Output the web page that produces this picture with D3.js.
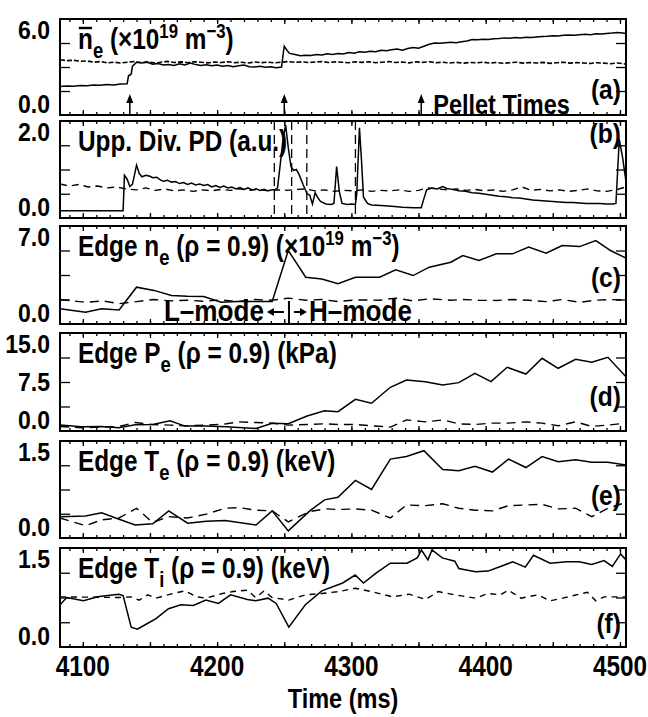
<!DOCTYPE html>
<html>
<head>
<meta charset="utf-8">
<script src="https://cdnjs.cloudflare.com/ajax/libs/d3/7.8.5/d3.min.js"></script>
<style>
body { margin: 0; background: #fff; }
text { font-family: "Liberation Sans", Arial, sans-serif; font-weight: bold; fill: #000; }
</style>
</head>
<body>
<script>
// ---- data (time in ms, value in panel units) ----
var xTickLabels = [4100, 4200, 4300, 4400, 4500];
var pelletTimes = [4135, 4250, 4352];
var divLineTimes = [4242.6, 4255.5, 4266.8, 4303];   // dashed markers in (b)

// (a) line averaged density
var neBarSolid = [[4083,1.78],[4088,1.82],[4093,1.80],[4098,1.85],[4103,1.83],[4108,1.87],[4113,1.86],[4118,1.90],[4123,1.88],[4128,1.93],[4133,1.95],
  [4134,2.45],[4136,2.55],[4137,3.05],[4140,3.30],[4144,3.25],[4148,3.30],[4152,3.18],[4156,3.22],[4160,3.12],[4164,3.15],[4168,3.10],[4172,3.20],
  [4176,3.12],[4180,3.25],[4184,3.15],[4188,3.10],[4192,3.14],[4196,3.08],[4200,3.12],[4204,3.05],[4208,3.10],[4212,3.02],[4216,3.08],[4220,3.12],
  [4224,3.02],[4228,3.00],[4232,3.05],[4236,2.98],[4240,3.02],[4244,2.96],[4248,3.00],[4249,3.70],[4250,4.30],[4252,4.05],[4254,3.85],[4258,3.78],
  [4262,3.70],[4266,3.74],[4270,3.72],[4274,3.78],[4278,3.75],[4282,3.82],[4286,3.78],[4290,3.85],[4294,3.82],[4298,3.90],[4302,3.86],[4306,3.95],
  [4310,3.92],[4314,3.98],[4318,3.95],[4322,4.05],[4326,4.02],[4330,4.08],[4334,4.12],[4338,4.05],[4342,4.15],[4346,4.22],[4350,4.18],[4354,4.30],
  [4358,4.42],[4362,4.50],[4366,4.48],[4370,4.52],[4374,4.55],[4378,4.52],[4382,4.58],[4386,4.62],[4390,4.72],[4394,4.70],[4398,4.74],[4402,4.72],
  [4406,4.76],[4410,4.78],[4414,4.82],[4418,4.80],[4422,4.84],[4426,4.82],[4430,4.86],[4434,4.85],[4438,4.88],[4442,4.90],[4446,4.92],[4450,4.95],
  [4454,4.94],[4458,4.98],[4462,5.00],[4466,4.98],[4470,5.02],[4474,5.04],[4478,5.02],[4482,5.08],[4486,5.06],[4490,5.10],[4494,5.12],[4498,5.15],
  [4502,5.12],[4504.5,5.10]];
var neBarDashed = [[4083,3.45],[4088,3.40],[4093,3.42],[4098,3.36],[4103,3.38],[4108,3.30],[4113,3.34],[4118,3.26],[4123,3.30],[4128,3.25],[4133,3.30],
  [4138,3.34],[4143,3.28],[4148,3.32],[4153,3.26],[4158,3.30],[4163,3.35],[4168,3.28],[4173,3.32],[4178,3.27],[4183,3.33],[4188,3.30],[4193,3.26],
  [4198,3.31],[4203,3.28],[4208,3.33],[4213,3.27],[4218,3.30],[4223,3.25],[4228,3.31],[4233,3.27],[4238,3.30],[4243,3.26],[4248,3.30],[4253,3.34],
  [4258,3.29],[4263,3.32],[4268,3.28],[4273,3.31],[4278,3.34],[4283,3.28],[4288,3.32],[4293,3.30],[4298,3.27],[4303,3.32],[4308,3.29],[4313,3.33],
  [4318,3.27],[4323,3.30],[4328,3.34],[4333,3.28],[4338,3.31],[4343,3.26],[4348,3.32],[4353,3.29],[4358,3.33],[4363,3.27],[4368,3.30],[4373,3.25],
  [4378,3.29],[4383,3.24],[4388,3.28],[4393,3.26],[4398,3.30],[4403,3.25],[4408,3.28],[4413,3.23],[4418,3.27],[4423,3.30],[4428,3.24],[4433,3.28],
  [4438,3.25],[4443,3.29],[4448,3.23],[4453,3.27],[4458,3.30],[4463,3.24],[4468,3.28],[4473,3.25],[4478,3.22],[4483,3.27],[4488,3.24],[4493,3.20],
  [4498,3.25],[4504.5,3.18]];

// (b) upper divertor photodiode
var divSolid = [[4083,0.15],[4100,0.15],[4115,0.15],[4130,0.15],[4131,0.88],[4133,0.80],[4135,0.65],[4137,0.70],[4140,1.09],[4142,0.92],[4144,0.85],
  [4147,0.88],[4150,0.86],[4152,0.83],[4155,0.84],[4158,0.78],[4160,0.76],[4163,0.78],[4166,0.74],[4169,0.75],[4172,0.71],[4175,0.73],[4178,0.69],
  [4181,0.72],[4184,0.68],[4187,0.70],[4190,0.67],[4193,0.69],[4196,0.64],[4199,0.67],[4202,0.63],[4205,0.66],[4208,0.62],[4211,0.64],[4214,0.60],
  [4217,0.63],[4220,0.59],[4223,0.62],[4226,0.58],[4229,0.60],[4232,0.57],[4235,0.59],[4238,0.56],[4241,0.58],[4243,0.58],[4245,0.62],[4247,1.10],
  [4249,1.60],[4251,1.92],[4253,1.45],[4255,1.06],[4257,0.98],[4259,1.00],[4261,0.90],[4264,0.69],[4267,0.50],[4269,0.47],[4271,0.29],[4273,0.52],
  [4275,0.42],[4277,0.34],[4281,0.29],[4285,0.28],[4287,0.30],[4289,1.06],[4291,0.55],[4293,0.30],[4297,0.28],[4300,0.29],[4303,0.28],[4304,0.50],
  [4306,1.86],[4307.5,1.20],[4309,0.43],[4312,0.30],[4315,0.27],[4322,0.26],[4330,0.24],[4338,0.22],[4346,0.21],[4352,0.21],[4354,0.40],[4356,0.58],
  [4360,0.62],[4364,0.60],[4368,0.65],[4371,0.61],[4375,0.59],[4380,0.56],[4385,0.55],[4390,0.52],[4395,0.51],[4400,0.49],[4405,0.47],[4410,0.45],
  [4415,0.44],[4420,0.42],[4425,0.41],[4430,0.39],[4435,0.37],[4440,0.36],[4445,0.35],[4450,0.34],[4455,0.33],[4460,0.32],[4465,0.32],[4470,0.31],
  [4475,0.30],[4480,0.30],[4485,0.30],[4490,0.29],[4495,0.29],[4497,0.30],[4499.5,1.62],[4502,1.24],[4504.5,0.75]];
var divDashed = [[4083,0.70],[4090,0.66],[4097,0.69],[4104,0.64],[4111,0.66],[4118,0.62],[4125,0.64],[4132,0.60],[4140,0.58],[4147,0.62],[4154,0.57],
  [4161,0.60],[4168,0.56],[4175,0.58],[4182,0.55],[4189,0.58],[4196,0.56],[4203,0.59],[4210,0.57],[4217,0.60],[4224,0.57],[4231,0.59],[4238,0.56],
  [4245,0.58],[4252,0.57],[4259,0.59],[4266,0.60],[4273,0.56],[4280,0.58],[4287,0.55],[4294,0.57],[4301,0.56],[4308,0.58],[4315,0.55],[4322,0.57],
  [4329,0.56],[4336,0.58],[4343,0.55],[4350,0.57],[4357,0.62],[4364,0.60],[4371,0.58],[4378,0.60],[4385,0.57],[4392,0.59],[4399,0.56],[4406,0.58],
  [4413,0.55],[4420,0.58],[4427,0.64],[4434,0.57],[4441,0.59],[4448,0.56],[4455,0.58],[4462,0.55],[4469,0.57],[4476,0.60],[4483,0.56],[4490,0.55],
  [4497,0.58],[4504.5,0.64]];

// (c) edge density
var edgeNeSolid = [[4083,1.09],[4102,0.84],[4114,1.09],[4127,1.00],[4140,2.63],[4153,2.40],[4166,2.04],[4178,1.98],[4190,1.96],[4203,1.56],[4215,1.60],
  [4228,1.60],[4241,1.60],[4253,5.25],[4266,3.34],[4278,3.22],[4290,2.87],[4303,3.34],[4321,3.34],[4333,3.87],[4346,3.46],[4358,4.06],[4374,4.41],
  [4383,4.89],[4395,4.54],[4408,5.01],[4420,5.01],[4432,5.49],[4445,5.06],[4457,5.60],[4470,5.53],[4482,5.96],[4493,5.25],[4504.5,4.70]];
var edgeNeDashed = [[4083,1.75],[4102,1.55],[4115,1.65],[4127,1.45],[4140,1.60],[4153,1.75],[4166,1.65],[4178,1.70],[4190,1.62],[4203,1.72],[4215,1.60],
  [4228,1.75],[4241,1.70],[4253,1.85],[4266,1.70],[4278,1.75],[4290,1.60],[4303,1.72],[4321,1.70],[4333,1.85],[4346,1.65],[4358,1.80],[4374,1.70],
  [4383,1.75],[4395,1.70],[4408,1.68],[4420,1.75],[4432,1.70],[4445,1.60],[4457,1.75],[4470,1.55],[4482,1.70],[4493,1.75],[4504.5,1.70]];

// (d) edge electron pressure
var edgePeSolid = [[4083,0.92],[4099,0.66],[4114,0.70],[4127,0.51],[4139,0.95],[4152,1.00],[4165,1.58],[4176,0.75],[4192,0.75],[4207,0.66],[4216,0.55],
  [4229,0.40],[4241,1.17],[4253,1.10],[4267,2.30],[4280,3.10],[4290,2.96],[4303,4.85],[4315,4.24],[4329,6.69],[4341,7.80],[4355,7.55],[4368,7.04],
  [4380,7.40],[4392,8.84],[4404,7.55],[4416,9.75],[4430,8.72],[4442,11.13],[4454,9.60],[4467,10.98],[4479,10.52],[4491,11.28],[4504.5,8.30]];
var edgePeDashed = [[4083,0.70],[4099,0.50],[4114,0.60],[4127,0.70],[4139,1.30],[4152,1.00],[4165,0.90],[4176,0.80],[4192,0.90],[4207,1.10],[4216,1.40],
  [4229,1.30],[4241,1.20],[4253,0.90],[4267,1.00],[4280,1.10],[4290,1.00],[4303,1.00],[4315,0.80],[4329,0.60],[4341,1.70],[4355,1.40],[4368,1.70],
  [4380,1.10],[4392,1.00],[4404,1.20],[4416,1.20],[4430,1.40],[4442,1.20],[4454,0.80],[4467,1.40],[4479,0.70],[4491,0.90],[4504.5,1.20]];

// (e) edge electron temperature
var edgeTeSolid = [[4083,0.33],[4102,0.34],[4114,0.39],[4127,0.29],[4139,0.20],[4152,0.22],[4164,0.42],[4178,0.23],[4192,0.26],[4206,0.27],[4229,0.20],
  [4241,0.42],[4253,0.11],[4269,0.42],[4280,0.59],[4290,0.63],[4303,0.89],[4315,0.75],[4329,1.22],[4341,1.26],[4354,1.35],[4368,1.06],[4380,1.04],
  [4392,1.11],[4405,1.02],[4417,1.22],[4430,1.09],[4442,1.26],[4454,1.18],[4467,1.21],[4479,1.17],[4491,1.17],[4504.5,1.13]];
var edgeTeDashed = [[4083,0.31],[4102,0.19],[4114,0.28],[4127,0.31],[4140,0.46],[4152,0.24],[4164,0.33],[4178,0.31],[4192,0.37],[4206,0.46],[4216,0.47],
  [4229,0.43],[4241,0.42],[4253,0.25],[4269,0.41],[4281,0.45],[4290,0.44],[4303,0.45],[4315,0.43],[4329,0.31],[4341,0.51],[4355,0.50],[4368,0.53],
  [4380,0.46],[4392,0.43],[4405,0.42],[4417,0.50],[4430,0.51],[4442,0.52],[4454,0.45],[4467,0.46],[4479,0.33],[4491,0.46],[4504.5,0.55]];

// (f) edge ion temperature
var edgeTiSolid = [[4083,0.64],[4088,0.75],[4100.5,0.70],[4111,0.76],[4126.7,0.80],[4130,0.78],[4136,0.30],[4140.6,0.27],[4148.4,0.36],[4154.5,0.43],
  [4163.8,0.58],[4173,0.64],[4182.3,0.63],[4191.6,0.71],[4201,0.66],[4210,0.79],[4222.5,0.72],[4228.7,0.70],[4238,0.74],[4244,0.66],[4253.4,0.30],
  [4265.7,0.64],[4278,0.85],[4293.5,0.97],[4302.8,1.09],[4309,0.97],[4318.3,1.12],[4329,1.27],[4341.4,1.27],[4349,1.35],[4352.2,1.47],[4357,1.32],
  [4360,1.47],[4367.7,1.35],[4377,1.30],[4380,1.19],[4392.4,1.14],[4401.7,1.15],[4411,1.22],[4420.2,1.29],[4429.5,1.21],[4435.6,1.39],[4448,1.27],
  [4460.4,1.29],[4469.6,1.29],[4479,1.25],[4488.2,1.31],[4494.3,1.22],[4500.5,1.41],[4504.5,1.32]];
var edgeTiDashed = [[4083,0.76],[4126.7,0.75],[4136,0.76],[4142,0.71],[4148.4,0.79],[4154.5,0.74],[4167,0.81],[4176,0.85],[4185,0.76],[4191.6,0.74],
  [4204,0.81],[4212,0.84],[4217,0.85],[4222.5,0.86],[4228.7,0.75],[4235,0.85],[4241,0.75],[4253.4,0.71],[4265.7,0.79],[4278,0.81],[4290.5,0.84],
  [4302.8,0.89],[4315,0.84],[4330.6,0.76],[4343,0.80],[4355.3,0.72],[4364.6,0.84],[4377,0.79],[4392.4,0.74],[4401.7,0.81],[4411,0.79],[4417,0.86],
  [4426.4,0.74],[4438.7,0.79],[4448,0.70],[4457.3,0.74],[4469.6,0.80],[4475.8,0.83],[4482,0.70],[4488.2,0.76],[4504.5,0.76]];

// ---- layout ----
var width = 648, height = 717;
var frameLeft = 60, frameRight = 626;
var squeeze = 0.84;   // condensed look for the bold face

var svg = d3.select("body").append("svg")
  .attr("width", width).attr("height", height);
svg.append("rect").attr("width", width).attr("height", height).attr("fill", "#fff");

var x = d3.scaleLinear().domain([4083, 4504.5]).range([frameLeft, frameRight]);

// text squeezed horizontally around its anchor point
function addText(parent, px, py, anchor, size, sx, str) {
  var g = parent.append("g").attr("transform", "translate(" + px + "," + py + ") scale(" + sx + ",1)");
  g.append("text").attr("text-anchor", anchor).style("font-size", size + "px").text(str);
  return g;
}

var panels = [
  {key: "a", top: 19,  bottom: 115, max: 6,   solid: neBarSolid,   dashed: neBarDashed,   dash: "5,2", dw: 1.6,
   yLabels: [[0, "0.0"], [6, "6.0"]], letterY: 99,
   title: [["n", "bar"], ["e", "sub"], [" (\u00d710", ""], ["19", "sup"], [" m", ""], ["\u22123", "sup"], [")", ""]]},
  {key: "b", top: 121, bottom: 218, max: 2,   solid: divSolid,     dashed: divDashed,     dash: "7,5", dw: 1.4,
   yLabels: [[0, "0.0"], [2, "2.0"]], letterY: 143,
   title: [["Upp. Div. PD (a.u.)", ""]]},
  {key: "c", top: 226, bottom: 324, max: 7,   solid: edgeNeSolid,  dashed: edgeNeDashed,  dash: "9,6", dw: 1.4,
   yLabels: [[0, "0.0"], [7, "7.0"]], letterY: 287,
   title: [["Edge n", ""], ["e", "sub"], [" (\u03c1 = 0.9) (\u00d710", ""], ["19", "sup"], [" m", ""], ["\u22123", "sup"], [")", ""]]},
  {key: "d", top: 333, bottom: 431, max: 15,  solid: edgePeSolid,  dashed: edgePeDashed,  dash: "9,6", dw: 1.4,
   yLabels: [[0, "0.0"], [7.5, "7.5"], [15, "15.0"]], letterY: 406,
   title: [["Edge P", ""], ["e", "sub"], [" (\u03c1 = 0.9) (kPa)", ""]]},
  {key: "e", top: 441, bottom: 538, max: 1.5, solid: edgeTeSolid,  dashed: edgeTeDashed,  dash: "9,6", dw: 1.4,
   yLabels: [[0, "0.0"], [1.5, "1.5"]], letterY: 505,
   title: [["Edge T", ""], ["e", "sub"], [" (\u03c1 = 0.9) (keV)", ""]]},
  {key: "f", top: 548, bottom: 647, max: 1.5, solid: edgeTiSolid,  dashed: edgeTiDashed,  dash: "6,5", dw: 1.4,
   yLabels: [[0, "0.0"], [1.5, "1.5"]], letterY: 633,
   title: [["Edge T", ""], ["i", "sub"], [" (\u03c1 = 0.9) (keV)", ""]]}
];

var minorTimes = d3.range(4090, 4505, 10);
var majorTimes = d3.range(4100, 4505, 50);

panels.forEach(function(p, i) {
  var y = d3.scaleLinear().domain([0, p.max]).range([p.bottom, p.top]);
  var g = svg.append("g").attr("class", "panel-" + p.key);

  g.append("clipPath").attr("id", "clip" + i)
    .append("rect").attr("x", frameLeft).attr("y", p.top)
    .attr("width", frameRight - frameLeft).attr("height", p.bottom - p.top);

  var line = d3.line()
    .x(function(d) { return x(d[0]); })
    .y(function(d) { return y(d[1]); });

  var plot = g.append("g").attr("clip-path", "url(#clip" + i + ")");
  plot.append("path").attr("d", line(p.dashed))
    .attr("fill", "none").attr("stroke", "#000").attr("stroke-width", p.dw)
    .attr("stroke-dasharray", p.dash);
  plot.append("path").attr("d", line(p.solid))
    .attr("fill", "none").attr("stroke", "#000").attr("stroke-width", 1.5);

  if (p.key === "b") {
    plot.selectAll("line.div").data(divLineTimes).enter().append("line")
      .attr("x1", function(d) { return x(d); }).attr("x2", function(d) { return x(d); })
      .attr("y1", p.top).attr("y2", p.bottom)
      .attr("stroke", "#000").attr("stroke-width", 1.3).attr("stroke-dasharray", "9,5");
  }

  // inward ticks on all four sides
  var quarters = [0.25, 0.5, 0.75].map(function(f) { return f * p.max; });
  var axes = [
    [d3.axisLeft(y).tickValues(quarters).tickSize(-10), "translate(" + frameLeft + ",0)"],
    [d3.axisRight(y).tickValues(quarters).tickSize(-10), "translate(" + frameRight + ",0)"],
    [d3.axisBottom(x).tickValues(minorTimes).tickSize(-3), "translate(0," + p.bottom + ")"],
    [d3.axisTop(x).tickValues(minorTimes).tickSize(-3), "translate(0," + p.top + ")"],
    [d3.axisBottom(x).tickValues(majorTimes).tickSize(-5), "translate(0," + p.bottom + ")"],
    [d3.axisTop(x).tickValues(majorTimes).tickSize(-5), "translate(0," + p.top + ")"]
  ];
  axes.forEach(function(a) {
    var ag = g.append("g").attr("transform", a[1]).call(a[0].tickFormat(""));
    ag.select(".domain").remove();
    ag.selectAll("line").attr("stroke", "#000").attr("stroke-width", 1.3);
  });

  g.append("rect").attr("x", frameLeft).attr("y", p.top)
    .attr("width", frameRight - frameLeft).attr("height", p.bottom - p.top)
    .attr("fill", "none").attr("stroke", "#000").attr("stroke-width", 2);

  // y labels: top one sits just inside, bottom one on the frame
  p.yLabels.forEach(function(l) {
    var yy = y(l[0]);
    var base = l[0] === 0 ? yy - 2 : (l[0] === p.max ? yy + 20 : yy + 9);
    addText(g, 50, base, "end", 25, 0.92, l[1]);
  });

  // title
  var tg = g.append("g").attr("transform", "translate(78," + (p.top + 30) + ") scale(" + squeeze + ",1)");
  var t = tg.append("text").style("font-size", "29px");
  var shift = 0;
  p.title.forEach(function(part) {
    var target = part[1] === "sub" ? 9 : (part[1] === "sup" ? -11 : 0);
    var ts = t.append("tspan").text(part[0]).attr("dy", target - shift);
    if (part[1] === "sub") ts.style("font-size", "22px");
    if (part[1] === "sup") ts.style("font-size", "20px");
    shift = target;
  });
  if (p.title[0][1] === "bar") {
    var ext = t.node().getExtentOfChar(0);
    tg.append("line").attr("x1", ext.x + 1).attr("x2", ext.x + ext.width - 1)
      .attr("y1", -21).attr("y2", -21)
      .attr("stroke", "#000").attr("stroke-width", 2.4);
  }

  // panel letter
  addText(g, 621, p.letterY, "end", 28, 0.88, "(" + p.key + ")");

  // extras
  if (p.key === "a") {
    pelletTimes.forEach(function(pt) {
      var px = x(pt);
      g.append("line").attr("x1", px).attr("x2", px).attr("y1", p.bottom - 1).attr("y2", p.bottom - 14)
        .attr("stroke", "#000").attr("stroke-width", 1.5);
      g.append("path").attr("d", "M" + (px - 3.5) + "," + (p.bottom - 12) + "L" + px + "," + (p.bottom - 21) + "L" + (px + 3.5) + "," + (p.bottom - 12) + "Z")
        .attr("fill", "#000");
    });
    addText(g, x(pelletTimes[2]) + 12, p.bottom - 1, "start", 27, 0.87, "Pellet Times");
  }
  if (p.key === "c") {
    var barX = x(4253.5), ty = p.bottom - 3;
    addText(g, barX - 25, ty, "end", 29, 0.9, "L\u2013mode");
    addText(g, barX + 20, ty, "start", 29, 0.9, "H\u2013mode");
    g.append("line").attr("x1", barX).attr("x2", barX).attr("y1", ty - 20).attr("y2", ty + 2)
      .attr("stroke", "#000").attr("stroke-width", 2);
    [[-5, -22], [5, 18]].forEach(function(a) {
      var ay = ty - 9;
      g.append("line").attr("x1", barX + a[0]).attr("x2", barX + a[1] - Math.sign(a[1]) * 4)
        .attr("y1", ay).attr("y2", ay).attr("stroke", "#000").attr("stroke-width", 2);
      var tip = barX + a[1], back = tip - Math.sign(a[1]) * 7;
      g.append("path").attr("d", "M" + tip + "," + ay + "L" + back + "," + (ay - 4) + "L" + back + "," + (ay + 4) + "Z")
        .attr("fill", "#000");
    });
  }
});

// bottom time axis labels
var bottomY = panels[panels.length - 1].bottom;
var xl = svg.append("g");
xTickLabels.forEach(function(d) {
  addText(xl, x(d), bottomY + 29, "middle", 29, squeeze, d);
});
addText(svg, (frameLeft + frameRight) / 2, bottomY + 61, "middle", 28, squeeze, "Time (ms)");
</script>
</body>
</html>
